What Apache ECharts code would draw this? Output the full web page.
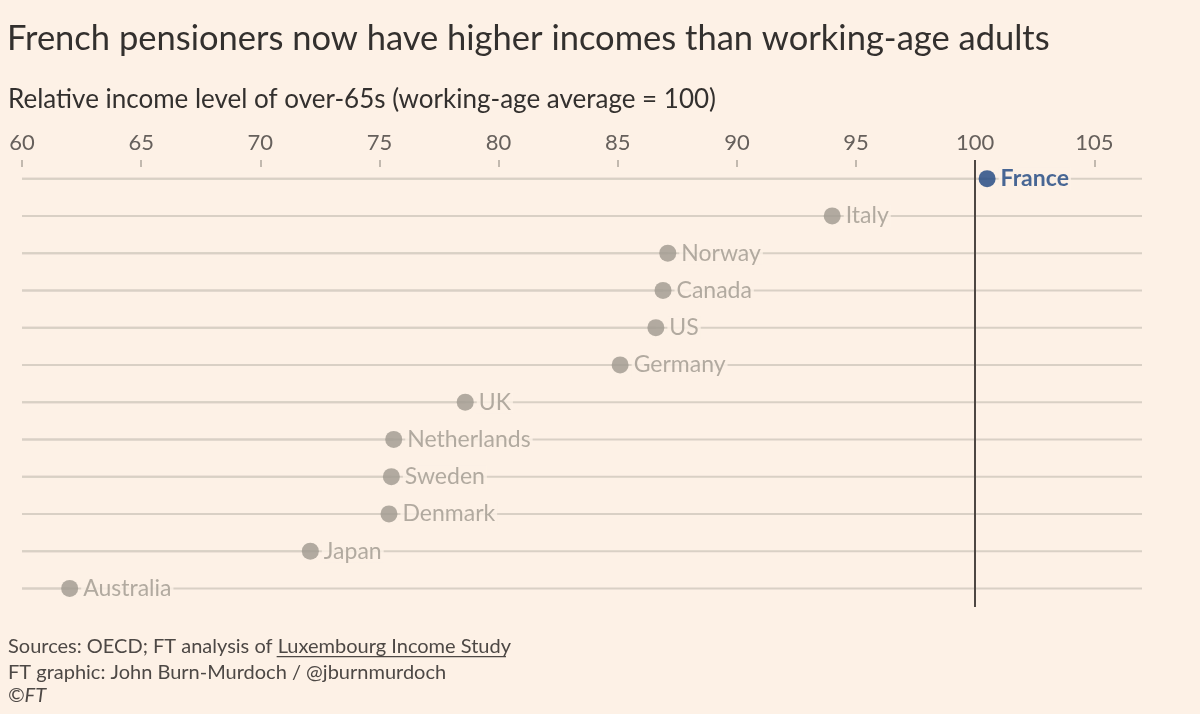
<!DOCTYPE html>
<html>
<head>
<meta charset="utf-8">
<script src="https://cdn.jsdelivr.net/npm/echarts@6/dist/echarts.min.js"></script>
<style>
html,body{margin:0;padding:0;background:#fdf1e6;}
#chart{width:1200px;height:714px;}
</style>
</head>
<body>
<div id="chart"></div>
<script>
const countries = ['France','Italy','Norway','Canada','US','Germany','UK','Netherlands','Sweden','Denmark','Japan','Australia'];
const values = [100.5, 94.0, 87.1, 86.9, 86.6, 85.1, 78.6, 75.6, 75.5, 75.4, 72.1, 62.0];
const highlight = 'France';
const referenceValue = 100;
const tickValues = [60, 65, 70, 75, 80, 85, 90, 95, 100, 105];
const xMin = 60, xMax = 107;

const BG = '#fdf1e6';
const GREY = '#9f988f';
const BLUE = '#1a4480';
const LINE = '#d9d0c5';
const FONT = 'Lato';

const srcPrefix = 'Sources: OECD; FT analysis of ';
const srcLink = 'Luxembourg Income Study';
const footSize = 20;

const chart = echarts.init(document.getElementById('chart'));

function buildOption() {
  const ctx = document.createElement('canvas').getContext('2d');
  ctx.font = footSize + 'px ' + FONT;
  const prefixW = ctx.measureText(srcPrefix).width;
  const linkW = ctx.measureText(srcLink).width;
  return {
  backgroundColor: BG,
  animation: false,
  textStyle: {fontFamily: FONT},
  title: [
    {text: 'French pensioners now have higher incomes than working-age adults', left: 2, top: 16,
     textStyle: {fontFamily: FONT, fontSize: 34.5, fontWeight: 'normal', color: '#33302e'}},
    {text: 'Relative income level of over-65s (working-age average = 100)', left: 3, top: 82,
     textStyle: {fontFamily: FONT, fontSize: 26, fontWeight: 'normal', color: '#33302e'}},
    {text: srcPrefix + srcLink + '\nFT graphic: John Burn-Murdoch / @jburnmurdoch', left: 3, top: 629,
     textStyle: {fontFamily: FONT, fontSize: footSize, fontWeight: 'normal', color: '#4d4845', lineHeight: 26}},
    {text: '©FT', left: 3, top: 681,
     textStyle: {fontFamily: FONT, fontSize: footSize, fontStyle: 'italic', fontWeight: 'normal', color: '#4d4845'}}
  ],
  grid: {left: 22, right: 58, top: 160, height: 447},
  xAxis: {
    type: 'value', position: 'top', min: xMin, max: xMax, interval: 5,
    axisLine: {show: false},
    axisTick: {show: true, inside: true, length: 7, customValues: tickValues, lineStyle: {color: '#c2b9af', width: 2}},
    axisLabel: {color: '#66605c', fontSize: 22, fontFamily: FONT, margin: 6, customValues: tickValues},
    splitLine: {show: false}
  },
  yAxis: {
    type: 'category', data: countries, inverse: true,
    axisLine: {show: false}, axisTick: {show: false}, axisLabel: {show: false}, splitLine: {show: false}
  },
  series: [
    {
      type: 'bar', data: values, barWidth: 2, z: 1, silent: true,
      itemStyle: {color: LINE},
      showBackground: true, backgroundStyle: {color: LINE}
    },
    {
      type: 'scatter', z: 5,
      data: countries.map((c, i) => ({
        value: [values[i], c],
        name: c,
        itemStyle: {color: c === highlight ? BLUE : GREY},
        label: c === highlight ? {color: BLUE, fontWeight: 'bold'} : {}
      })),
      symbolSize: 17,
      label: {
        show: true, position: 'right', distance: 3, formatter: '{b}',
        color: GREY, fontSize: 23, fontFamily: FONT,
        backgroundColor: BG, padding: [0, 2, 0, 2]
      },
      markLine: {
        silent: true, symbol: 'none', z: 3,
        lineStyle: {color: '#4e4743', width: 2, type: 'solid'},
        label: {show: false},
        data: [{xAxis: referenceValue}]
      }
    }
  ],
  graphic: [
    {id: 'underline', type: 'rect', silent: true,
     shape: {x: 7 + prefixW, y: 656, width: linkW - 4, height: 1.3},
     style: {fill: '#4d4845'}}
  ]
  };
}
chart.setOption(buildOption());
if (document.fonts && document.fonts.load) {
  document.fonts.load(footSize + 'px ' + FONT).then(() => chart.setOption(buildOption(), true));
}
</script>
</body>
</html>
